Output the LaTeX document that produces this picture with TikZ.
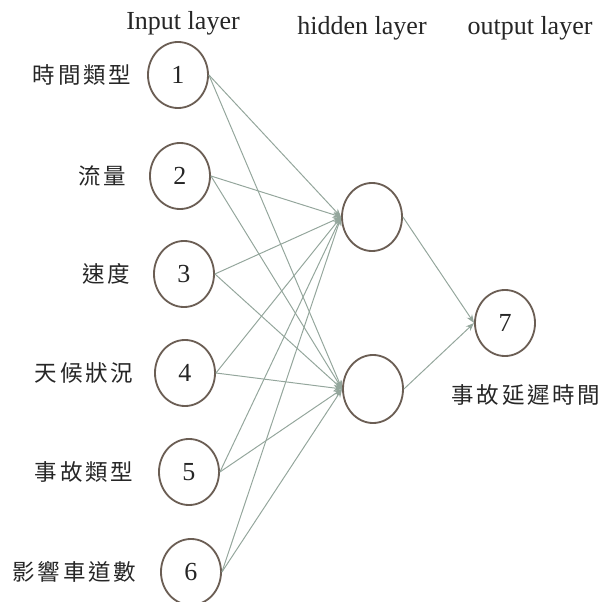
\documentclass[tikz,border=0pt]{standalone}
\usepackage{fontspec}
\setmainfont{Liberation Serif}
\newfontfamily\cjk[LetterSpace=12]{Noto Sans CJK TC}
\usetikzlibrary{positioning,shapes.geometric,arrows.meta}
\definecolor{nodebrown}{rgb}{0.42,0.37,0.33}
\definecolor{linkgreen}{rgb}{0.58,0.65,0.61}
\definecolor{textgray}{rgb}{0.15,0.15,0.15}

\begin{document}
\begin{tikzpicture}[x=0.025cm, y=-0.025cm, font=\fontsize{18.5}{20}\selectfont, text=textgray,
  neuron/.style={ellipse, draw=nodebrown, line width=1.3pt, minimum width=1.5cm, minimum height=1.65cm, inner sep=0pt},
  feature/.style={anchor=east, font=\cjk\fontsize{16}{18}\selectfont},
  link/.style={draw=linkgreen, line width=0.7pt, -{Stealth[length=6pt,width=4.5pt]}}]

\useasboundingbox (0,0) rectangle (604,602);

% layer titles
\node[anchor=base] (tin)  at (183,30) {Input layer};
\node[anchor=base] (thid) at (362,35) {hidden layer};
\node[anchor=base] (tout) at (530,35) {output layer};

% Input layer
\node[neuron] (in1) at (178,75)  {1};
\node[neuron] (in2) at (180,176) {2};
\node[neuron] (in3) at (184,274) {3};
\node[neuron] (in4) at (185,373) {4};
\node[neuron] (in5) at (189,472) {5};
\node[neuron] (in6) at (191,572) {6};

% input names
\node[feature] (f1) at (136,75)  {時間類型};
\node[feature] (f2) at (131,176) {流量};
\node[feature] (f3) at (135,274) {速度};
\node[feature] (f4) at (138,373) {天候狀況};
\node[feature] (f5) at (138,472) {事故類型};
\node[feature] (f6) at (141,572) {影響車道數};

% hidden layer
\node[neuron, minimum height=1.7cm] (h1) at (372,217) {};
\node[neuron, minimum height=1.7cm] (h2) at (373,389) {};

% output layer
\node[neuron] (out) at (505,323) {7};
\node[feature, anchor=north] (fout) at (526,380) {事故延遲時間};

% input -> hidden
\draw[link] (in1.east) -- (h1.west);
\draw[link] (in1.east) -- (h2.west);
\draw[link] (in2.east) -- (h1.west);
\draw[link] (in2.east) -- (h2.west);
\draw[link] (in3.east) -- (h1.west);
\draw[link] (in3.east) -- (h2.west);
\draw[link] (in4.east) -- (h1.west);
\draw[link] (in4.east) -- (h2.west);
\draw[link] (in5.east) -- (h1.west);
\draw[link] (in5.east) -- (h2.west);
\draw[link] (in6.east) -- (h1.west);
\draw[link] (in6.east) -- (h2.west);

% hidden -> output
\draw[link] (h1.east) -- (out.west);
\draw[link] (h2.east) -- (out.west);

\end{tikzpicture}
\end{document}
